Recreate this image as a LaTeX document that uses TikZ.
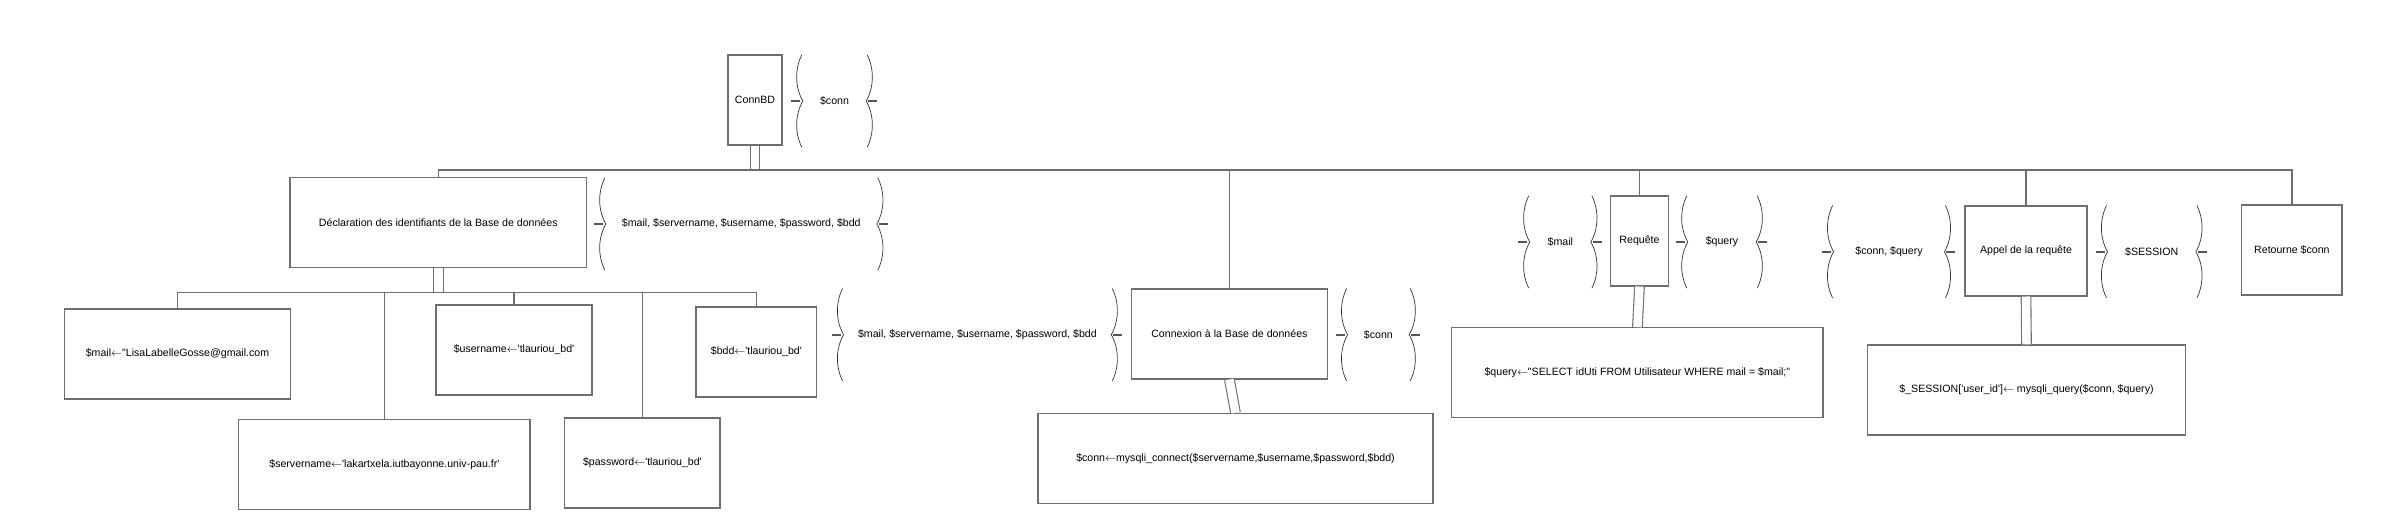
\documentclass[tikz,border=0pt]{standalone}
\usepackage{fontspec}
\setmainfont{Liberation Sans}[Ligatures=TeXOff]
\usetikzlibrary{calc}
\definecolor{boxgray}{HTML}{6E6E6E}
\definecolor{delimgray}{HTML}{333333}
\definecolor{tickgray}{HTML}{555555}
\newcommand\larr{\ensuremath{\leftarrow}}
\begin{document}
\begin{tikzpicture}[x=1pt,y=-1pt, font=\fontsize{10.6}{12}\selectfont,
  box/.style={draw=boxgray, line width=1.2pt, inner sep=0pt, minimum height=90pt},
  flowpair/.style={inner sep=0pt, minimum height=92pt},
  link/.style={draw=boxgray, line width=1.2pt},
  seqlink/.style={draw=boxgray, line width=1.1pt, double=white, double distance=8.5pt},
  delim/.style={draw=delimgray, line width=0.7pt},
  tickmark/.style={draw=tickgray, line width=2pt}]
\useasboundingbox (0,0) rectangle (2407,515);

% boxes
\node[box, minimum width=54] (connbd) at (755,100) {ConnBD};
\node[box, minimum width=296.6] (decl) at (438.3,222.7) {Déclaration des identifiants de la Base de données};
\node[box, minimum width=226.5] (mail) at (177.5,354) {\$mail\larr"LisaLabelleGosse@gmail.com};
\node[box, minimum width=291.2] (srv) at (384.4,464.7) {\$servername\larr'lakartxela.iutbayonne.univ-pau.fr'};
\node[box, minimum width=156] (usr) at (514,349.9) {\$username\larr'tlauriou\_bd'};
\node[box, minimum width=155.2] (pwd) at (642.4,462.9) {\$password\larr'tlauriou\_bd'};
\node[box, minimum width=120.8] (bdd) at (756.4,352) {\$bdd\larr'tlauriou\_bd'};
\node[box, minimum width=196] (conx) at (1229.4,333.9) {Connexion à la Base de données};
\node[box, minimum width=395] (mcon) at (1235.5,458.5) {\$conn\larr mysqli\_connect(\$servername,\$username,\$password,\$bdd)};
\node[box, minimum width=57.6] (req) at (1639.5,240.9) {Requête};
\node[box, minimum width=371.3] (qry) at (1637.4,372.7) {\$query\larr"SELECT idUti FROM Utilisateur WHERE mail = \$mail;"};
\node[box, minimum width=122] (appel) at (2026,250.9) {Appel de la requête};
\node[box, minimum width=317.4] (sess) at (2026.5,390) {\$\_SESSION['user\_id']\larr\ mysqli\_query(\$conn, \$query)};
\node[box, minimum width=100.3] (ret) at (2291.9,250) {Retourne \$conn};

% data flows
\node[flowpair, minimum width=63] (fconnbd) at (834.5,101) {\$conn};
\node[flowpair, minimum width=270.6] (fdecl) at (741.3,224) {\$mail, \$servername, \$username, \$password, \$bdd};
\node[flowpair, minimum width=267.3] (fcin) at (977.4,334.7) {\$mail, \$servername, \$username, \$password, \$bdd};
\node[flowpair, minimum width=61.2] (fcout) at (1378.4,334.7) {\$conn};
\node[flowpair, minimum width=60.7] (fmail) at (1560.3,242) {\$mail};
\node[flowpair, minimum width=68] (fquery) at (1722,242) {\$query};
\node[flowpair, minimum width=110.4] (fcq) at (1889,251.7) {\$conn, \$query};
\node[flowpair, minimum width=88] (fsession) at (2151.7,251.7) {\$SESSION};

\foreach \n in {fconnbd,fdecl,fcin,fcout,fmail,fquery,fcq,fsession}{
  \draw[delim] ($(\n.north west)+(-1,0)$) .. controls ($(\n.north west)+(-8,14)$) and ($(\n.west)+(-8,-14)$) .. (\n.west)
    .. controls ($(\n.west)+(-8,14)$) and ($(\n.south west)+(-8,-14)$) .. ($(\n.south west)+(-1,0)$);
  \draw[delim] ($(\n.north east)+(1,0)$) .. controls ($(\n.north east)+(8,14)$) and ($(\n.east)+(8,-14)$) .. (\n.east)
    .. controls ($(\n.east)+(8,14)$) and ($(\n.south east)+(8,-14)$) .. ($(\n.south east)+(1,0)$);
  \draw[tickmark] ($(\n.west)+(-12,0)$) -- ($(\n.west)+(-3,0)$);
  \draw[tickmark] ($(\n.east)+(2,0)$) -- ($(\n.east)+(11,0)$);
}

% connectors
\coordinate (bus) at (755,170);
\coordinate (subbus) at (438,292.5);
\draw[seqlink] (connbd.south) -- (connbd.south |- bus);
\draw[seqlink] (decl.south) -- (decl.south |- subbus);
\draw[seqlink] (conx.south) -- (mcon.north);
\draw[seqlink] (req.south) -- (qry.north);
\draw[seqlink] (appel.south) -- (sess.north);
\draw[link] (decl.north) -- (decl.north |- bus) -- (ret.north |- bus) -- (ret.north);
\foreach \n in {conx,req,appel} \draw[link] (\n.north) -- (\n.north |- bus);
\draw[link] (mail.north) -- (mail.north |- subbus) -- (bdd.north |- subbus) -- (bdd.north);
\foreach \n in {srv,usr,pwd} \draw[link] (\n.north) -- (\n.north |- subbus);
\end{tikzpicture}
\end{document}
